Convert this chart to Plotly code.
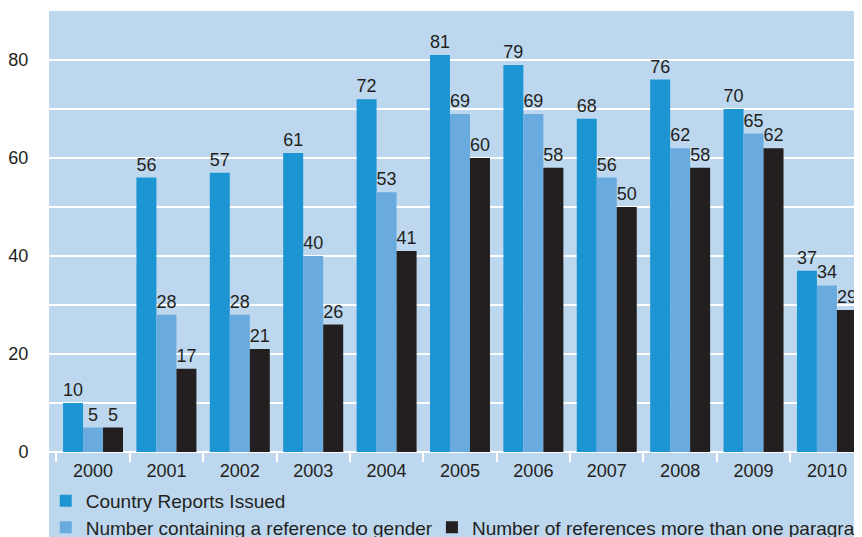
import plotly.graph_objects as go

years = ["2000", "2001", "2002", "2003", "2004", "2005", "2006", "2007", "2008", "2009", "2010"]
reports_issued = [10, 56, 57, 61, 72, 81, 79, 68, 76, 70, 37]
gender_reference = [5, 28, 28, 40, 53, 69, 69, 56, 62, 65, 34]
multi_paragraph = [5, 17, 21, 26, 41, 60, 58, 50, 58, 62, 29]

series_names = [
    "Country Reports Issued",
    "Number containing a reference to gender",
    "Number of references more than one paragraph",
]
series_colors = ["#1E95D3", "#6AABDF", "#231F20"]
series_legends = ["legend", "legend2", "legend3"]

BG = "#BDD7EE"
TXT = "#231F20"
FONT = "Liberation Sans, Arial, Helvetica, sans-serif"

fig = go.Figure()
for name, vals, col, leg in zip(series_names, [reports_issued, gender_reference, multi_paragraph],
                                series_colors, series_legends):
    fig.add_trace(go.Bar(
        x=years, y=vals, name=name, marker=dict(color=col, line=dict(width=0)),
        text=vals, texttemplate="%{text}", textposition="outside",
        textfont=dict(size=18, color=TXT, family=FONT), cliponaxis=False,
        legend=leg,
    ))

legend_style = dict(orientation="v", xanchor="left", yanchor="middle",
                    bgcolor="rgba(0,0,0,0)", borderwidth=0,
                    font=dict(size=19, color=TXT, family=FONT))

# page body adds an 8px margin, so the figure is sized to fill the rest of the window
fig.update_layout(
    width=854, height=529, autosize=False,
    margin=dict(l=41, r=0, t=3, b=84.5, autoexpand=False),
    paper_bgcolor="white", plot_bgcolor=BG,
    barmode="group", bargap=0.1825, bargroupgap=0,
    font=dict(family=FONT, size=18, color=TXT),
    showlegend=True,
    legend=dict(x=-0.004, y=-0.111, **legend_style),
    legend2=dict(x=-0.004, y=-0.171, **legend_style),
    legend3=dict(x=0.471, y=-0.171, **legend_style),
    xaxis=dict(type="category", range=[-0.6, 10.478], showgrid=False, zeroline=False,
               tickson="boundaries", ticks="outside", ticklen=9, tickwidth=1.5, tickcolor="white",
               ticklabelstandoff=6,
               showline=False, tickfont=dict(size=18, color=TXT, family=FONT)),
    yaxis=dict(range=[0, 90], dtick=20, tick0=0, showgrid=True, gridcolor="white", gridwidth=1.5,
               minor=dict(dtick=10, showgrid=True, gridcolor="white", gridwidth=1.5),
               zeroline=True, zerolinecolor="white", zerolinewidth=2,
               ticks="outside", ticklen=16, tickcolor="rgba(0,0,0,0)",
               tickfont=dict(size=18, color=TXT, family=FONT), showline=False),
    shapes=[dict(type="rect", xref="paper", yref="paper", x0=0, x1=1.01, y0=-0.3, y1=0,
                 fillcolor=BG, line=dict(width=0), layer="below")],
)

fig.write_html("out.html")
